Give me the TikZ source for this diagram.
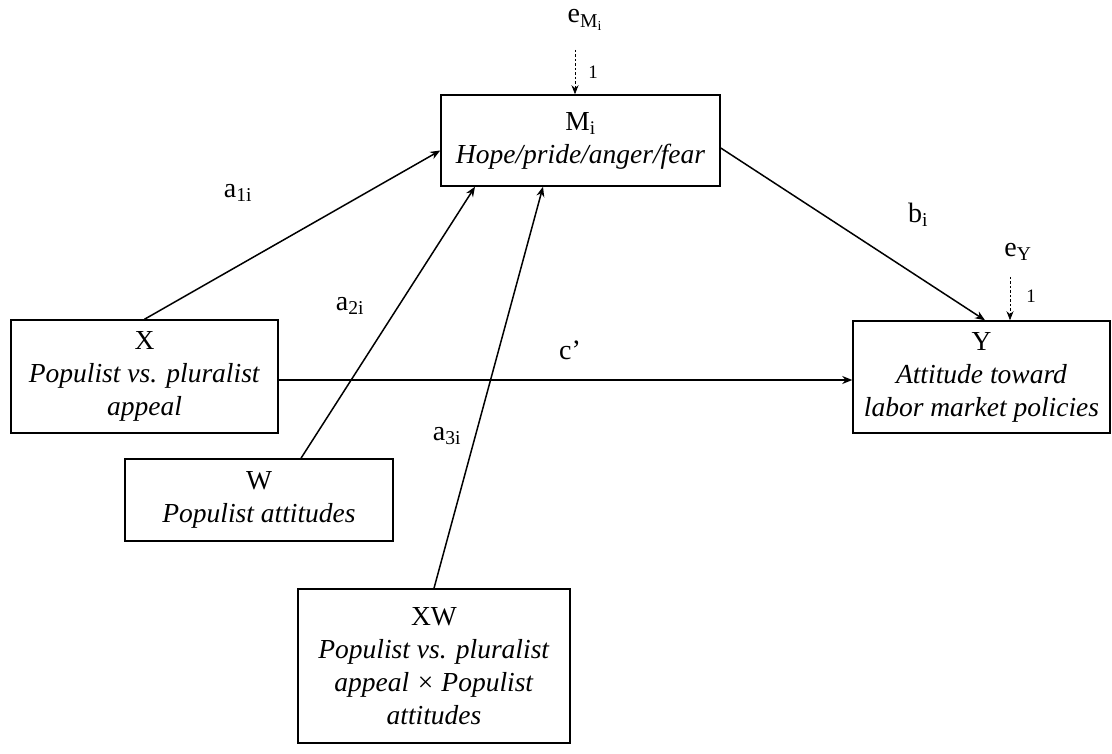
\documentclass[tikz,border=0pt]{standalone}
\usepackage{fontspec}
\setmainfont{Liberation Serif}
\usetikzlibrary{arrows.meta}
\begin{document}
\begin{tikzpicture}[x=1pt,y=-1pt,
  box/.style={draw,line width=1.5pt,inner sep=0pt,align=center,font=\fontsize{27.5}{33}\selectfont},
  lbl/.style={inner sep=0pt,font=\fontsize{28}{30}\selectfont},
  small/.style={inner sep=0pt,font=\fontsize{19}{20}\selectfont},
  arr/.style={line width=1.5pt,-{Stealth[length=10pt,width=8pt]}},
  err/.style={line width=0.7pt,dash pattern=on 2.5pt off 2pt,-{Stealth[length=9pt,width=7pt]}}]
\useasboundingbox (0,0) rectangle (1112,754);
\node[box,minimum width=279pt,minimum height=91pt] (M) at (580.5,140.5) {M\textsubscript{i}\\\textit{Hope/pride/anger/fear}};
\node[box,minimum width=267pt,minimum height=113pt] (X) at (144.5,376.5) {X\\\textit{Populist vs. pluralist}\\\textit{appeal}};
\node[box,minimum width=257pt,minimum height=112pt] (Y) at (981.5,377) {Y\\\textit{Attitude toward}\\\textit{labor market policies}};
\node[box,minimum width=268pt,minimum height=82pt] (W) at (259,500) {W\\\textit{Populist attitudes}};
\node[box,minimum width=272pt,minimum height=154pt] (XW) at (434,666) {XW\\\textit{Populist vs. pluralist}\\\textit{appeal × Populist}\\\textit{attitudes}};
\draw[arr] (X.north) -- ([yshift=-10pt]M.west);
\draw[arr] ([xshift=42pt]W.north) -- ([xshift=-105.5pt]M.south);
\draw[arr] (XW.north) -- ([xshift=-37.5pt]M.south);
\draw[arr] ([yshift=-7.5pt]M.east) -- ([xshift=3.5pt]Y.north);
\draw[arr] ([yshift=-3.5pt]X.east) -- ([yshift=-3pt]Y.west);
\node[lbl] (eM) at (585,20) {e\textsubscript{M\textsubscript{i}}};
\coordinate (eMs) at (575,50);
\draw[err] (eMs) -- ([xshift=-5.5pt]M.north);
\node[small] (oneM) at (593,72) {1};
\node[lbl] (eY) at (1018,252) {e\textsubscript{Y}};
\coordinate (eYs) at (1010,277);
\draw[err] (eYs) -- ([xshift=28.5pt]Y.north);
\node[small] (oneY) at (1031,296) {1};
\node[lbl] (a1) at (238,193) {a\textsubscript{1i}};
\node[lbl] (a2) at (350,306) {a\textsubscript{2i}};
\node[lbl] (a3) at (447,436) {a\textsubscript{3i}};
\node[lbl] (b) at (918,215) {b\textsubscript{i}};
\node[lbl] (c) at (570,350) {c’};
\end{tikzpicture}
\end{document}
